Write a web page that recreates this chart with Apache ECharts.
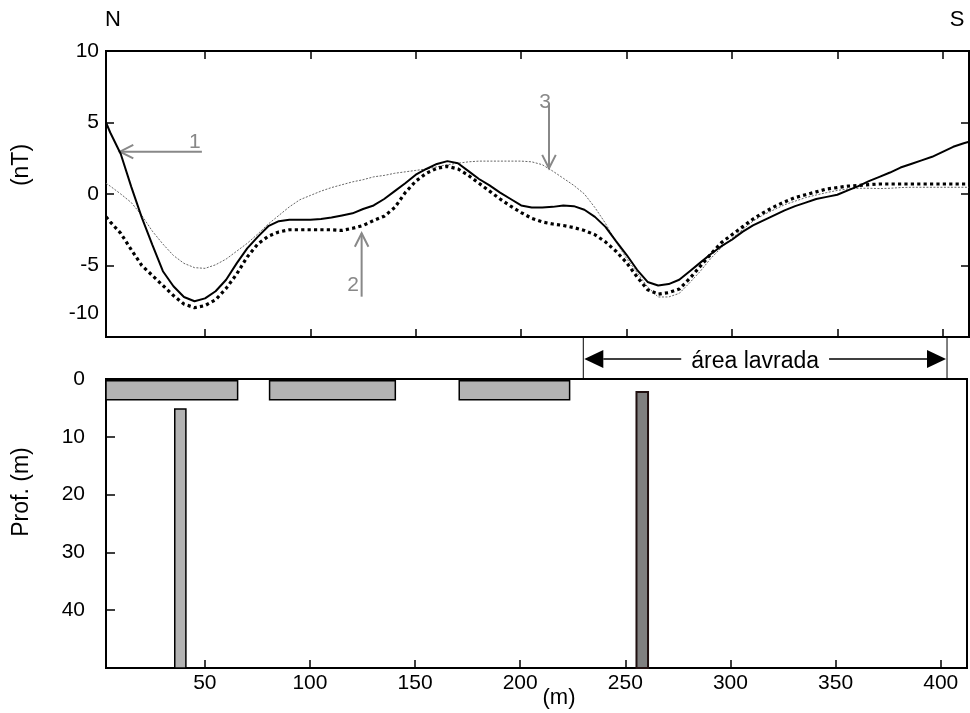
<!DOCTYPE html>
<html>
<head>
<meta charset="utf-8">
<script src="https://cdn.jsdelivr.net/npm/echarts@6.0.0/dist/echarts.min.js"></script>
<style>
  html, body { margin: 0; padding: 0; background: #fff; }
  #grafico { width: 970px; height: 713px; }
</style>
</head>
<body>
<div id="grafico"></div>
<script>
  // distância ao longo do perfil N-S (m)
  var distancia = [3, 5, 10, 15, 20, 25, 30, 35, 40, 45,
    50, 55, 60, 65, 70, 75, 80, 85, 90, 95,
    100, 105, 110, 115, 120, 125, 130, 135, 140, 145,
    150, 155, 160, 165, 170, 175, 180, 185, 190, 195,
    200, 205, 210, 215, 220, 225, 230, 235, 240, 245,
    250, 255, 260, 265, 270, 275, 280, 285, 290, 295,
    300, 305, 310, 315, 320, 325, 330, 335, 340, 345,
    350, 355, 360, 365, 370, 375, 380, 385, 390, 395,
    400, 405, 410, 412.5];

  // curva 1 (linha cheia), nT
  var curva1 = [5.0, 4.3, 2.8, 0.5, -1.65, -3.55, -5.4, -6.45, -7.2, -7.5,
    -7.3, -6.8, -6.0, -4.85, -3.8, -3.0, -2.25, -1.9, -1.8, -1.8,
    -1.8, -1.75, -1.65, -1.5, -1.35, -1.05, -0.8, -0.35, 0.2, 0.75,
    1.35, 1.75, 2.1, 2.3, 2.15, 1.6, 1.05, 0.6, 0.1, -0.35,
    -0.8, -0.95, -0.95, -0.9, -0.8, -0.85, -1.1, -1.6, -2.3, -3.3,
    -4.25, -5.3, -6.15, -6.4, -6.3, -6.0, -5.4, -4.8, -4.2, -3.65,
    -3.2, -2.65, -2.2, -1.85, -1.5, -1.15, -0.85, -0.6, -0.35, -0.2,
    -0.05, 0.25, 0.55, 0.9, 1.2, 1.5, 1.85, 2.1, 2.35, 2.6,
    2.95, 3.3, 3.55, 3.65];

  // curva 2 (pontilhada grossa), nT
  var curva2 = [-1.6, -1.95, -2.75, -3.9, -5.0, -5.7, -6.4, -7.1, -7.7, -7.95,
    -7.8, -7.4, -6.6, -5.6, -4.4, -3.5, -2.95, -2.65, -2.5, -2.5,
    -2.5, -2.5, -2.5, -2.55, -2.4, -2.2, -1.85, -1.55, -0.95, 0.1,
    0.9, 1.45, 1.8, 1.93, 1.75, 1.3, 0.75, 0.2, -0.35, -0.85,
    -1.3, -1.7, -1.95, -2.1, -2.2, -2.35, -2.55, -2.85, -3.35, -4.0,
    -4.8, -5.8, -6.7, -7.0, -6.9, -6.65, -5.9, -5.05, -4.2, -3.4,
    -2.85, -2.3, -1.75, -1.3, -0.9, -0.55, -0.25, -0.05, 0.15, 0.35,
    0.45, 0.55, 0.6, 0.65, 0.7, 0.7, 0.7, 0.7, 0.7, 0.7,
    0.7, 0.7, 0.7, 0.7];

  // curva 3 (linha fina cinza), nT
  var curva3 = [0.75, 0.55, 0.0, -0.6, -1.5, -2.6, -3.5, -4.3, -4.85, -5.15,
    -5.2, -4.95, -4.55, -4.0, -3.45, -2.8, -2.1, -1.5, -0.9, -0.4,
    -0.1, 0.2, 0.45, 0.65, 0.85, 1.0, 1.2, 1.3, 1.45, 1.55,
    1.65, 1.75, 1.9, 2.05, 2.15, 2.25, 2.3, 2.3, 2.3, 2.3,
    2.3, 2.25, 2.05, 1.6, 1.1, 0.6, 0.0, -0.95, -2.05, -3.35,
    -4.5, -5.5, -6.5, -7.2, -7.2, -6.95, -6.2, -5.4, -4.5, -3.75,
    -3.1, -2.5, -1.9, -1.45, -1.1, -0.75, -0.5, -0.25, -0.07, 0.1,
    0.25, 0.35, 0.4, 0.4, 0.38, 0.4, 0.45, 0.47, 0.47, 0.47,
    0.47, 0.47, 0.47, 0.47];

  // setas numeradas: [x início, y início, x fim, y fim, x rótulo, y rótulo]
  var setas = [
    [48.5, 2.96, 9.6, 2.96, 45.2, 3.6],
    [124.3, -7.18, 124.3, -2.75, 120.2, -6.4],
    [213.2, 6.34, 213.2, 1.8, 211.3, 6.4]
  ];
  var rotulosSetas = ['1', '2', '3'];

  // galerias e furos: [x início, x fim, prof. topo, prof. base] (m)
  var galerias = [
    [3, 65.6, 0.3, 3.6],
    [80.8, 140.6, 0.3, 3.6],
    [171, 223.5, 0.3, 3.6],
    [35.7, 41.0, 5.2, 50]
  ];
  var furo = [[255.3, 260.8, 2.25, 50]];

  // área lavrada (m)
  var areaLavrada = [[230, 403]];

  var ticksPerfil = [-10, -5, 0, 5, 10];
  var ticksProf = [0, 10, 20, 30, 40];

  var fonte = 'Liberation Sans, Arial, sans-serif';

  function pares(ys) {
    return distancia.map(function (d, i) { return [d, ys[i]]; });
  }

  function desenhaSeta(params, api) {
    var a = api.coord([api.value(0), api.value(1)]);
    var b = api.coord([api.value(2), api.value(3)]);
    var t = api.coord([api.value(4), api.value(5)]);
    var ang = Math.atan2(b[1] - a[1], b[0] - a[0]);
    var L = 15, w = 0.47;
    var p1 = [b[0] - L * Math.cos(ang - w), b[1] - L * Math.sin(ang - w)];
    var p2 = [b[0] - L * Math.cos(ang + w), b[1] - L * Math.sin(ang + w)];
    return {
      type: 'group',
      children: [
        { type: 'line', shape: { x1: a[0], y1: a[1], x2: b[0], y2: b[1] }, style: { stroke: '#888', lineWidth: 2 } },
        { type: 'polyline', shape: { points: [p1, b, p2] }, style: { stroke: '#888', lineWidth: 2, fill: null } },
        { type: 'text', style: { text: rotulosSetas[params.dataIndex], x: t[0], y: t[1], fill: '#888',
            font: '21px ' + fonte, align: 'center', verticalAlign: 'middle' } }
      ]
    };
  }

  function desenhaBloco(cor, borda, espessura) {
    return function (params, api) {
      var p0 = api.coord([api.value(0), api.value(2)]);
      var p1 = api.coord([api.value(1), api.value(3)]);
      return {
        type: 'rect',
        shape: { x: p0[0], y: p0[1], width: p1[0] - p0[0], height: p1[1] - p0[1] },
        style: { fill: cor, stroke: borda, lineWidth: espessura }
      };
    };
  }

  function desenhaArea(params, api) {
    var a = api.coord([api.value(0), 0]);
    var b = api.coord([api.value(1), 0]);
    var yTopo = a[1] - 42, yMeio = a[1] - 20;
    var cab = 20, meia = 9;
    return {
      type: 'group',
      children: [
        { type: 'line', shape: { x1: a[0], y1: yTopo, x2: a[0], y2: a[1] }, style: { stroke: '#000', lineWidth: 1 } },
        { type: 'line', shape: { x1: b[0], y1: yTopo, x2: b[0], y2: a[1] }, style: { stroke: '#000', lineWidth: 1 } },
        { type: 'line', shape: { x1: a[0] + cab, y1: yMeio, x2: b[0] - cab, y2: yMeio }, style: { stroke: '#000', lineWidth: 1.5 } },
        { type: 'polygon', shape: { points: [[a[0] + 1, yMeio], [a[0] + cab, yMeio - meia], [a[0] + cab, yMeio + meia]] }, style: { fill: '#000' } },
        { type: 'polygon', shape: { points: [[b[0] - 1, yMeio], [b[0] - cab, yMeio - meia], [b[0] - cab, yMeio + meia]] }, style: { fill: '#000' } },
        { type: 'text', style: { text: 'área lavrada', x: (a[0] + b[0]) / 2 - 10, y: yMeio + 3, fill: '#000',
            font: '23px ' + fonte, align: 'center', verticalAlign: 'middle', backgroundColor: '#fff', padding: [0, 10] } }
      ]
    };
  }

  var grafico = echarts.init(document.getElementById('grafico'));

  var eixoX = {
    type: 'value', min: 3, max: 412.5, minInterval: 50, maxInterval: 50,
    axisLine: { show: false, onZero: false }, splitLine: { show: false },
    axisTick: { inside: true, length: 8, lineStyle: { color: '#000', width: 1.5 } }
  };

  var opcao = {
    animation: false,
    backgroundColor: '#fff',
    grid: [
      { left: 106, right: 1, top: 51, height: 286, show: true, borderColor: '#000', borderWidth: 2, backgroundColor: 'transparent' },
      { left: 106, right: 1, top: 379, height: 289, show: true, borderColor: '#000', borderWidth: 2, backgroundColor: 'transparent' }
    ],
    xAxis: [
      Object.assign({}, eixoX, { gridIndex: 0, position: 'bottom', axisLabel: { show: false } }),
      Object.assign({}, eixoX, { gridIndex: 0, position: 'top', axisLabel: { show: false } }),
      Object.assign({}, eixoX, {
        gridIndex: 1, position: 'bottom',
        axisLabel: {
          color: '#000', fontSize: 21, fontFamily: fonte, margin: 5,
          formatter: function (v) { return v % 50 === 0 ? String(v) : ''; }
        }
      })
    ],
    yAxis: [
      {
        type: 'value', gridIndex: 0, position: 'left', min: ticksPerfil[0], max: ticksPerfil[ticksPerfil.length - 1], interval: 5,
        axisLine: { show: false, onZero: false }, splitLine: { show: false },
        axisTick: { inside: true, length: 8, lineStyle: { color: '#000', width: 1.5 } },
        axisLabel: {
          color: '#000', fontSize: 21, fontFamily: fonte, margin: 7,
          formatter: function (v) { return v === -10 ? '{sobe|-10}' : String(v); },
          rich: { sobe: { fontSize: 21, fontFamily: fonte, color: '#000', padding: [0, 0, 48, 0] } }
        }
      },
      {
        type: 'value', gridIndex: 0, position: 'right', min: -10, max: 10, interval: 5,
        axisLine: { show: false, onZero: false }, splitLine: { show: false },
        axisTick: { inside: true, length: 8, lineStyle: { color: '#000', width: 1.5 } },
        axisLabel: { show: false }
      },
      {
        type: 'value', gridIndex: 1, position: 'left', min: ticksProf[0], max: 50, interval: 10, inverse: true,
        axisLine: { show: false, onZero: false }, splitLine: { show: false },
        axisTick: { inside: true, length: 9, lineStyle: { color: '#000', width: 1.5 } },
        axisLabel: {
          color: '#000', fontSize: 21, fontFamily: fonte, margin: 21,
          formatter: function (v) { return ticksProf.indexOf(v) >= 0 ? String(v) : ''; }
        }
      }
    ],
    series: [
      {
        type: 'line', xAxisIndex: 0, yAxisIndex: 0, data: pares(curva3), symbol: 'none',
        lineStyle: { color: '#666', width: 1, type: [2, 1.5] }
      },
      {
        type: 'line', xAxisIndex: 0, yAxisIndex: 0, data: pares(curva2), symbol: 'none',
        lineStyle: { color: '#000', width: 3.2, type: 'dotted' }
      },
      {
        type: 'line', xAxisIndex: 0, yAxisIndex: 0, data: pares(curva1), symbol: 'none',
        lineStyle: { color: '#000', width: 2 }
      },
      {
        type: 'custom', xAxisIndex: 0, yAxisIndex: 0, data: setas, renderItem: desenhaSeta,
        encode: { x: [0, 2, 4], y: [1, 3, 5] }, clip: false, silent: true
      },
      {
        type: 'custom', xAxisIndex: 2, yAxisIndex: 2, data: galerias, renderItem: desenhaBloco('#b3b3b3', '#000', 1.5),
        encode: { x: [0, 1], y: [2, 3] }, clip: false, silent: true
      },
      {
        type: 'custom', xAxisIndex: 2, yAxisIndex: 2, data: furo, renderItem: desenhaBloco('#808080', '#201010', 2),
        encode: { x: [0, 1], y: [2, 3] }, clip: false, silent: true
      },
      {
        type: 'custom', xAxisIndex: 2, yAxisIndex: 2, data: areaLavrada, renderItem: desenhaArea,
        encode: { x: [0, 1] }, clip: false, silent: true, z: 5
      }
    ],
    graphic: [
      { type: 'text', x: 113, y: 20, style: { text: 'N', font: '22px ' + fonte, fill: '#000', align: 'center', verticalAlign: 'middle' } },
      { type: 'text', x: 957, y: 20, style: { text: 'S', font: '22px ' + fonte, fill: '#000', align: 'center', verticalAlign: 'middle' } },
      { type: 'text', x: 22, y: 165, rotation: Math.PI / 2, style: { text: '(nT)', font: '23px ' + fonte, fill: '#000', align: 'center', verticalAlign: 'middle' } },
      { type: 'text', x: 22, y: 492, rotation: Math.PI / 2, style: { text: 'Prof. (m)', font: '23px ' + fonte, fill: '#000', align: 'center', verticalAlign: 'middle' } },
      { type: 'text', x: 559, y: 698, style: { text: '(m)', font: '22px ' + fonte, fill: '#000', align: 'center', verticalAlign: 'middle' } }
    ]
  };

  grafico.setOption(opcao);
</script>
</body>
</html>
